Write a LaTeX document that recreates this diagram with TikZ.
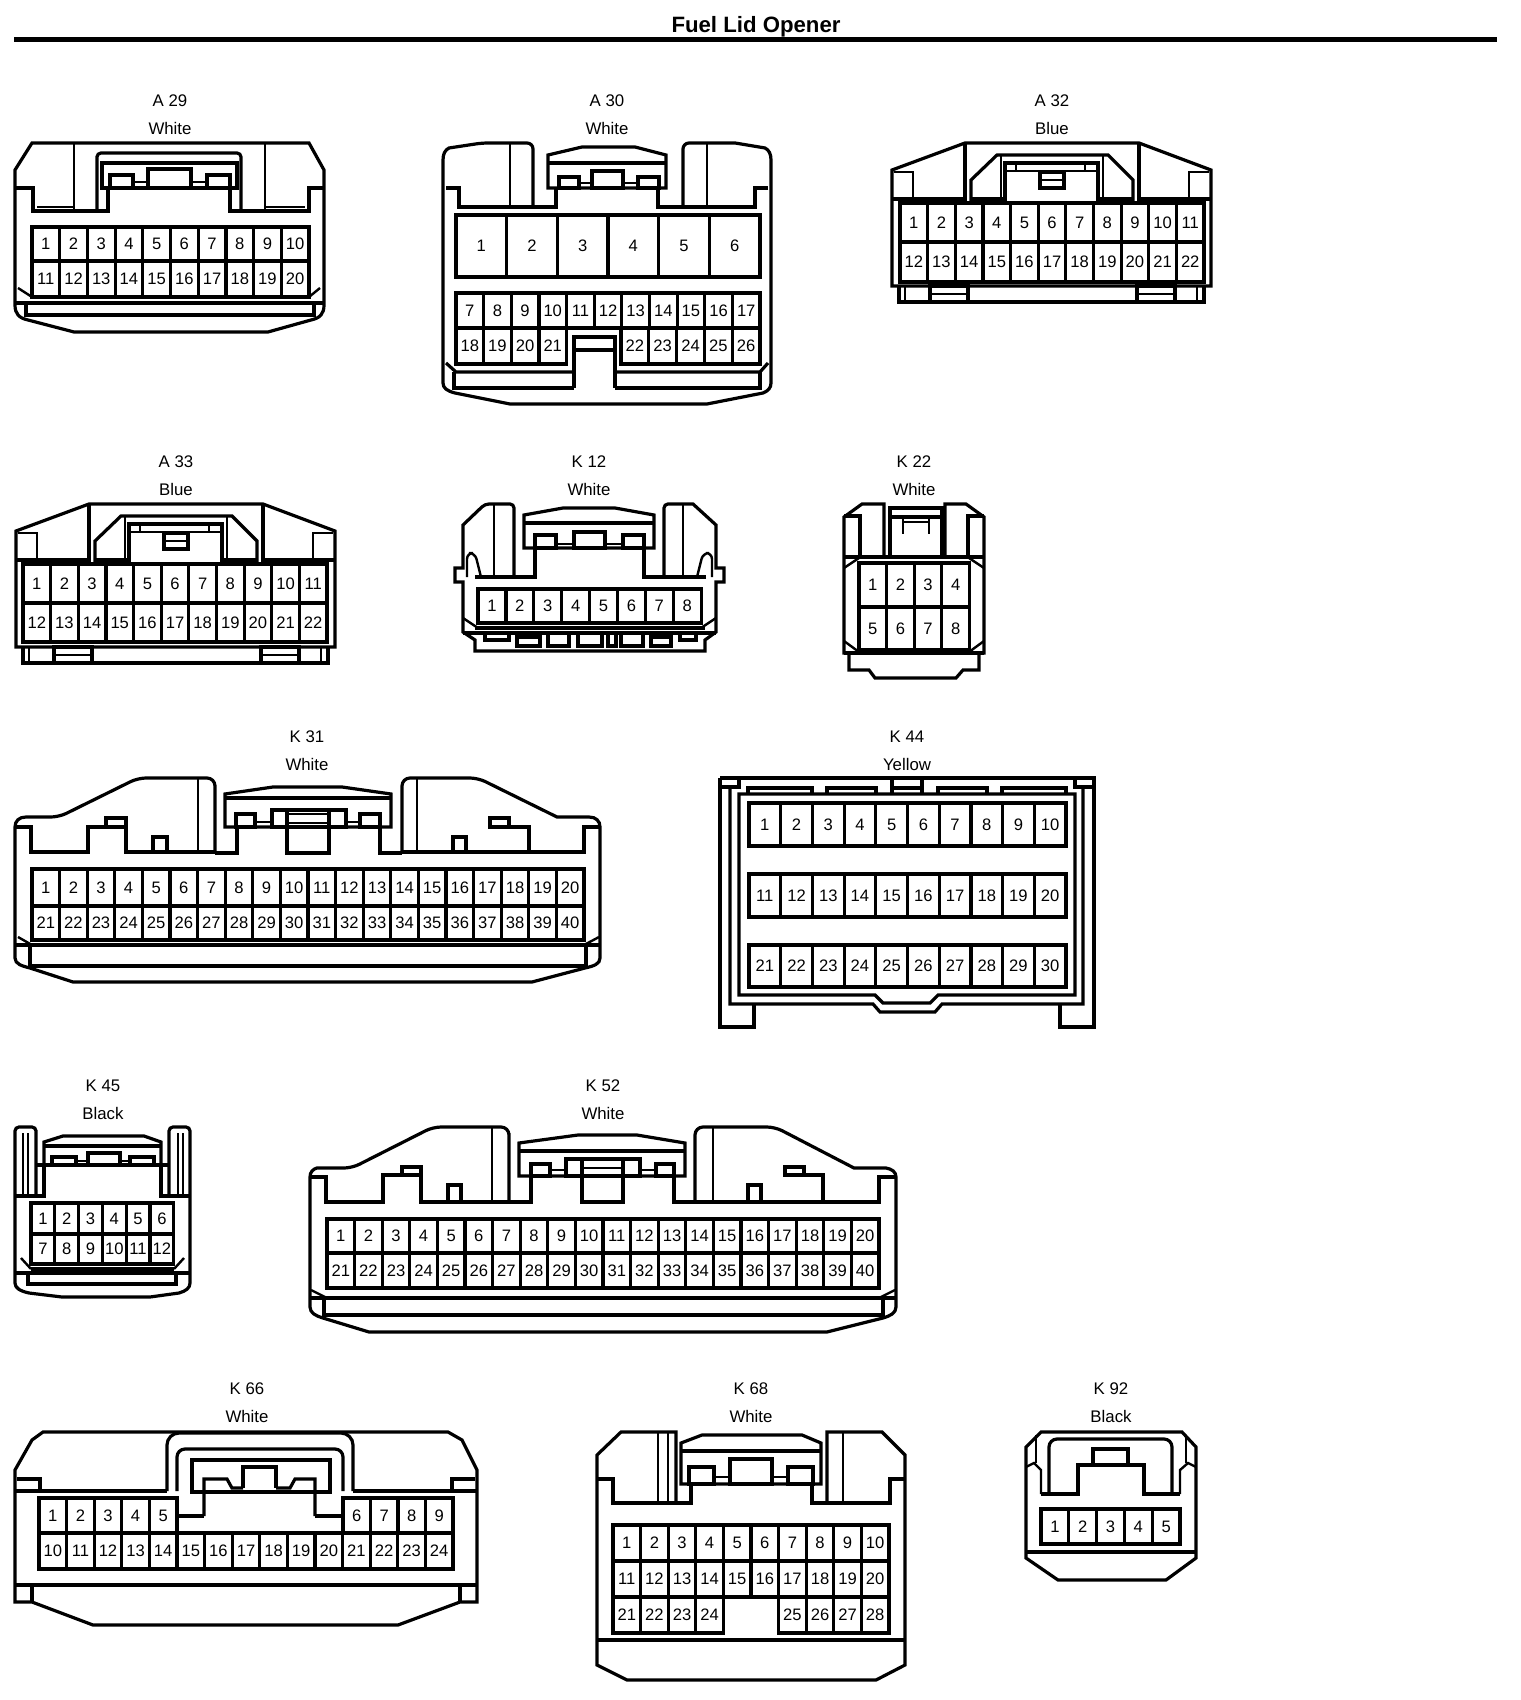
\documentclass[tikz,border=0pt]{standalone}
\usepackage{fontspec}
\setmainfont{Liberation Sans}
\tikzset{
  body/.style={draw=black,line width=1.6pt,line join=miter},
  thinline/.style={draw=black,line width=1.2pt},
  pinbox/.style={draw=black,line width=1.6pt,inner sep=0pt,font=\fontsize{8.3}{10}\selectfont},
  conlabel/.style={inner sep=0pt,font=\fontsize{8.4}{10}\selectfont},
  titletext/.style={inner sep=0pt,font=\fontsize{11.1}{13}\selectfont\bfseries}
}
\newcommand{\pinrow}[7]{%
  \foreach \n in {#6,...,#7} {
    \node[pinbox,minimum width=#4*.5pt,minimum height=#5*.5pt] (#1p\n) at ({#2+(\n-#6+.5)*#4},{#3+#5/2}) {\n};
  }
}
\newcommand{\conname}[5]{%
  \node[conlabel] (#1name) at (#2,#3) {#4};
  \node[conlabel] (#1col) at (#2,#3+27.5) {#5};
}
\newcommand{\bluebody}{%
  \draw[body] (965,143) -- (1139,143) -- (1211,170) -- (1211,286) -- (892,286) -- (892,170) -- cycle;
  \draw[body] (899,286) -- (899,302) -- (1204,302) -- (1204,286);
  \draw[body] (892,199) -- (965,199) -- (965,143);
  \draw[body] (1211,199) -- (1139,199) -- (1139,143);
  \draw[body] (971,203) -- (971,180) -- (997,155) -- (1108,155) -- (1133,180) -- (1133,203);
  \draw[body] (971,199) -- (1005,199);
  \draw[body] (1098,199) -- (1133,199);
  \draw[thinline] (1001,155) -- (1001,199);
  \draw[thinline] (1103,155) -- (1103,199);
  \draw[body] (1005,203) -- (1005,163) -- (1098,163) -- (1098,203);
  \draw[thinline] (1005,171) -- (1098,171);
  \draw[thinline] (1016,163) -- (1016,171);
  \draw[thinline] (1085,163) -- (1085,171);
  \draw[body] (1040,172) rectangle (1064,188);
  \draw[thinline] (1040,180) -- (1064,180);
  \draw[thinline] (894,172) -- (913,172) -- (913,199);
  \draw[thinline] (1209,172) -- (1189,172) -- (1189,199);
  \draw[thinline] (905,286) -- (905,302);
  \draw[thinline] (1197,286) -- (1197,302);
  \draw[body] (930,286) rectangle (968,302);
  \draw[thinline] (930,294) -- (968,294);
  \draw[body] (1137,286) rectangle (1175,302);
  \draw[thinline] (1137,294) -- (1175,294);
}
\begin{document}
\begin{tikzpicture}[x=.5pt,y=-.5pt]
\useasboundingbox (0,0) rectangle (1520,1700);
\node[titletext] (title) at (756,27) {Fuel Lid Opener};
\draw[line width=2.5pt] (14,40) -- (1497,40);

\conname{A29}{170}{101}{A 29}{White}
\draw[body] (32,143) -- (309,143) -- (324,170) -- (324,305) .. controls (324,314) and (320,318) .. (311,320) -- (268,332) -- (74,332) -- (28,320) .. controls (19,318) and (15,314) .. (15,305) -- (15,170) -- cycle;
\draw[body] (15,188) -- (33,188) -- (33,211) -- (108,211) -- (108,188);
\draw[body] (324,188) -- (309,188) -- (309,211) -- (230,211) -- (230,188);
\draw[body] (97,211) -- (97,156) [rounded corners=2pt] -- (97,153) -- (241,153) [sharp corners] -- (241,211);
\draw[body] (102,163) rectangle (237,188);
\draw[body] (110,175) rectangle (133,188);
\draw[body] (148,169) rectangle (191,188);
\draw[body] (207,175) rectangle (230,188);
\draw[thinline] (133,182) -- (148,182);
\draw[thinline] (191,182) -- (207,182);
\draw[thinline] (74,143) -- (74,211);
\draw[thinline] (265,143) -- (265,211);
\draw[thinline] (37,207) -- (74,207);
\draw[thinline] (265,207) -- (305,207);
\pinrow{A29}{32}{227}{27.7}{34}{1}{10}
\pinrow{A29}{32}{261}{27.7}{36}{11}{20}
\draw[body] (15,303) -- (324,303);
\draw[body] (26,303) -- (26,315) -- (314,315) -- (314,303);
\draw[thinline] (18,288) -- (32,297);
\draw[thinline] (320,288) -- (309,297);

\conname{A30}{607}{101}{A 30}{White}
\draw[body] (533,207) -- (533,150) [rounded corners=3pt] -- (533,143) -- (482,143) [sharp corners] -- (449,148) .. controls (445,150) and (443,154) .. (443,160) -- (443,383) .. controls (443,388) and (447,391) .. (455,393) -- (510,404) -- (707,404) -- (763,393) .. controls (768,391) and (771,388) .. (771,383) -- (771,160) .. controls (771,154) and (769,150) .. (765,148) -- (735,143) [rounded corners=3pt] -- (683,143) [sharp corners] -- (683,207);
\draw[body] (446,188) -- (459,188) -- (459,207) -- (556,207) -- (556,188);
\draw[body] (768,188) -- (755,188) -- (755,207) -- (658,207) -- (658,188);
\draw[thinline] (510,143) -- (510,207);
\draw[thinline] (707,143) -- (707,207);
\draw[body] (548,188) -- (548,155) -- (582,147) -- (635,147) -- (666,155) -- (666,188) -- cycle;
\draw[body] (548,163) -- (666,163);
\draw[body] (559,177) rectangle (579,188);
\draw[body] (592,171) rectangle (623,188);
\draw[body] (638,177) rectangle (659,188);
\draw[thinline] (579,183) -- (592,183);
\draw[thinline] (623,183) -- (638,183);
\pinrow{A30}{456}{215}{50.67}{62}{1}{6}
\pinrow{A30}{456}{293}{27.64}{35}{7}{17}
\pinrow{A30}{456}{328}{27.64}{36}{18}{21}
\pinrow{A30}{621}{328}{27.8}{36}{22}{26}
\draw[body] (574,388) -- (574,337) -- (615,337) -- (615,388);
\draw[body] (574,350) -- (615,350);
\draw[body] (446,363) -- (456,372) -- (574,372);
\draw[body] (768,363) -- (760,372) -- (615,372);
\draw[body] (454,372) -- (454,388) -- (574,388);
\draw[body] (760,372) -- (760,388) -- (615,388);

\conname{A32}{1052}{101}{A 32}{Blue}
\bluebody
\pinrow{A32}{900}{203}{27.64}{39}{1}{11}
\pinrow{A32}{900}{242}{27.64}{40}{12}{22}

\conname{A33}{176}{462}{A 33}{Blue}
\begin{scope}[shift={(-876,361)}]
\bluebody
\end{scope}
\pinrow{A33}{23}{564}{27.64}{39}{1}{11}
\pinrow{A33}{23}{603}{27.64}{39}{12}{22}

\conname{K12}{589}{462}{K 12}{White}
\draw[body] (514,577) -- (514,510) [rounded corners=2pt] -- (514,504) -- (485,504) [sharp corners] -- (463,525) -- (463,568) -- (455,568) -- (455,582) -- (463,582) -- (463,632) -- (475,640) -- (475,651) -- (705,651) -- (705,640) -- (716,632) -- (716,582) -- (724,582) -- (724,568) -- (716,568) -- (716,525) -- (693,504) [rounded corners=2pt] -- (664,504) [sharp corners] -- (664,577);
\draw[body] (475,577) -- (535,577) -- (535,548);
\draw[body] (706,577) -- (644,577) -- (644,548);
\draw[thinline] (494,504) -- (494,577);
\draw[thinline] (683,504) -- (683,577);
\draw[thinline,rounded corners=3pt] (467,577) -- (467,553) -- (475,553) -- (481,577);
\draw[thinline,rounded corners=3pt] (712,577) -- (712,553) -- (703,553) -- (697,577);
\draw[body] (524,548) -- (524,515) -- (563,508) -- (615,508) -- (654,515) -- (654,548) -- cycle;
\draw[body] (524,523) -- (654,523);
\draw[body] (535,535) rectangle (556,548);
\draw[body] (574,532) rectangle (605,548);
\draw[body] (623,535) rectangle (644,548);
\draw[thinline] (556,544) -- (574,544);
\draw[thinline] (605,544) -- (623,544);
\pinrow{K12}{478}{589}{27.9}{34}{1}{8}
\draw[body] (475,628) -- (705,628);
\draw[body] (463,633) -- (716,633);
\draw[thinline] (463,618) -- (478,628);
\draw[thinline] (716,618) -- (701,628);
\draw[body] (485,633) -- (485,640) -- (509,640) -- (509,633);
\draw[body] (517,637) rectangle (540,646);
\draw[body] (548,633) -- (548,646) -- (569,646) -- (569,633);
\draw[body] (578,633) -- (578,646) -- (602,646) -- (602,633);
\draw[body] (608,633) -- (608,646) -- (616,646) -- (616,633);
\draw[body] (621,633) -- (621,646) -- (643,646) -- (643,633);
\draw[body] (651,637) rectangle (671,646);
\draw[body] (680,633) -- (680,640) -- (696,640) -- (696,633);

\conname{K22}{914}{462}{K 22}{White}
\draw[body] (884,555) -- (884,504) -- (862,504) -- (844,517) -- (844,653) -- (849,653) -- (849,670) -- (869,670) -- (875,678) -- (956,678) -- (963,670) -- (979,670) -- (979,653) -- (984,653) -- (984,517) -- (966,504) -- (945,504) -- (945,555);
\draw[body] (844,653) -- (984,653);
\draw[body] (844,557) -- (984,557);
\draw[body] (844,516) -- (860,516) -- (860,557);
\draw[body] (984,516) -- (968,516) -- (968,557);
\draw[body] (890,557) -- (890,508) -- (942,508) -- (942,557);
\draw[body] (890,517) -- (942,517);
\draw[thinline] (903,517) -- (903,534);
\draw[thinline] (929,517) -- (929,534);
\draw[thinline] (903,522) -- (929,522);
\draw[thinline] (844,568) -- (859,558);
\draw[thinline] (984,568) -- (969,558);
\draw[thinline] (844,641) -- (859,652);
\draw[thinline] (984,641) -- (969,652);
\pinrow{K22}{859}{563}{27.6}{44}{1}{4}
\pinrow{K22}{859}{607}{27.6}{43}{5}{8}

\conname{K31}{307}{737}{K 31}{White}
\draw[body] (215,853) -- (215,785) [rounded corners=4pt] -- (215,778) -- (138,778) -- (59,817) [sharp corners] -- (26,817) .. controls (19,817) and (15,821) .. (15,827) -- (15,958) .. controls (15,964) and (22,966) .. (30,968) -- (73,982) -- (532,982) -- (585,968) .. controls (594,966) and (600,964) .. (600,958) -- (600,827) .. controls (600,821) and (596,817) .. (589,817) -- (557,817) [rounded corners=4pt] -- (478,778) -- (402,778) [sharp corners] -- (402,853);
\draw[body] (15,827) -- (31,827) -- (31,852) -- (88,852) -- (88,827) -- (126,827);
\draw[body] (106,827) -- (106,818) -- (126,818) -- (126,852) -- (215,852);
\draw[body] (153,852) -- (153,837) -- (167,837) -- (167,852);
\draw[body] (215,853) -- (237,853) -- (237,827);
\draw[body] (402,853) -- (380,853) -- (380,827);
\draw[thinline] (198,778) -- (198,852);
\draw[thinline] (417,778) -- (417,852);
\draw[body] (225,827) -- (225,794) -- (273,787) -- (342,787) -- (391,794) -- (391,827) -- cycle;
\draw[body] (225,798) -- (391,798);
\draw[body] (236,814) rectangle (255,827);
\draw[body] (272,810) rectangle (346,827);
\draw[body] (360,814) rectangle (380,827);
\draw[thinline] (255,822) -- (272,822);
\draw[thinline] (346,822) -- (360,822);
\draw[body] (287,810) -- (287,853) -- (329,853) -- (329,810);
\draw[thinline] (287,814) -- (329,814);
\draw[thinline] (287,823) -- (329,823);
\draw[body] (402,852) -- (529,852) -- (529,827) -- (490,827) -- (490,818) -- (509,818) -- (509,827);
\draw[body] (453,852) -- (453,837) -- (466,837) -- (466,852);
\draw[body] (529,852) -- (584,852) -- (584,827) -- (600,827);
\pinrow{K31}{32}{869}{27.6}{37}{1}{20}
\pinrow{K31}{32}{906}{27.6}{34}{21}{40}
\draw[body] (15,945) -- (600,945);
\draw[body] (30,946) -- (30,966) -- (586,966) -- (586,946);
\draw[thinline] (18,937) -- (32,945);
\draw[thinline] (599,937) -- (584,945);

\conname{K44}{907}{737}{K 44}{Yellow}
\draw[body] (720,778) -- (1094,778) -- (1094,1027) -- (1060,1027) -- (1060,1005);
\draw[body] (720,778) -- (720,1027) -- (754,1027) -- (754,1005);
\draw[body] (730,787) -- (730,1004) -- (873,1004) -- (880,1012) -- (935,1012) -- (942,1004) -- (1083,1004) -- (1083,787);
\draw[body] (720,787) -- (739,787) -- (739,778);
\draw[body] (1094,787) -- (1075,787) -- (1075,778);
\draw[body] (739,794) -- (1075,794) -- (1075,995) -- (938,995) -- (930,1003) -- (883,1003) -- (875,995) -- (739,995) -- cycle;
\draw[body] (748,794) -- (748,788) -- (812,788) -- (812,794);
\draw[body] (827,794) -- (827,788) -- (876,788) -- (876,794);
\draw[body] (892,778) -- (892,794);
\draw[body] (922,778) -- (922,794);
\draw[body] (892,788) -- (922,788);
\draw[body] (938,794) -- (938,788) -- (987,788) -- (987,794);
\draw[body] (1002,794) -- (1002,788) -- (1066,788) -- (1066,794);
\pinrow{K44}{749}{803}{31.7}{43}{1}{10}
\pinrow{K44}{749}{874}{31.7}{43}{11}{20}
\pinrow{K44}{749}{945}{31.7}{42}{21}{30}

\conname{K45}{103}{1086}{K 45}{Black}
\draw[body] (36,1196) -- (36,1130) [rounded corners=2pt] -- (36,1127) -- (15,1127) -- (15,1135) [sharp corners] -- (15,1283) .. controls (15,1288) and (20,1291) .. (29,1293) -- (62,1297) -- (150,1297) -- (179,1293) .. controls (186,1291) and (190,1288) .. (190,1283) -- (190,1135) [rounded corners=2pt] -- (190,1127) -- (169,1127) [sharp corners] -- (169,1196);
\draw[thinline] (23,1133) -- (23,1196);
\draw[thinline] (28,1133) -- (28,1196);
\draw[thinline] (178,1133) -- (178,1196);
\draw[thinline] (183,1133) -- (183,1196);
\draw[body] (36,1165) -- (169,1165);
\draw[body] (44,1165) -- (44,1142) -- (63,1136) -- (144,1136) -- (161,1142) -- (161,1165);
\draw[body] (44,1146) -- (161,1146);
\draw[body] (52,1157) rectangle (76,1165);
\draw[body] (88,1153) rectangle (120,1165);
\draw[body] (130,1157) rectangle (154,1165);
\draw[thinline] (76,1161) -- (88,1161);
\draw[thinline] (120,1161) -- (130,1161);
\draw[body] (44,1165) -- (44,1196) -- (15,1196);
\draw[body] (161,1165) -- (161,1196) -- (190,1196);
\pinrow{K45}{31}{1203}{23.8}{31}{1}{6}
\pinrow{K45}{31}{1234}{23.8}{30}{7}{12}
\draw[body] (31,1269) -- (174,1269);
\draw[body] (15,1273) -- (190,1273);
\draw[body] (28,1273) -- (28,1284) -- (176,1284) -- (176,1273);
\draw[thinline] (21,1258) -- (31,1269);
\draw[thinline] (184,1258) -- (174,1269);

\conname{K52}{603}{1086}{K 52}{White}
\draw[body] (509,1202) -- (509,1133) [rounded corners=4pt] -- (509,1127) -- (433,1127) -- (352,1168) [sharp corners] -- (317,1168) .. controls (313,1169) and (310,1172) .. (310,1177) -- (310,1307) .. controls (310,1313) and (316,1316) .. (323,1318) -- (369,1332) -- (827,1332) -- (883,1318) .. controls (890,1316) and (896,1313) .. (896,1307) -- (896,1177) .. controls (896,1172) and (892,1169) .. (886,1168) -- (854,1168) [rounded corners=4pt] -- (775,1127) -- (695,1127) [sharp corners] -- (695,1202);
\draw[body] (310,1177) -- (326,1177) -- (326,1202) -- (383,1202) -- (383,1175) -- (421,1175);
\draw[body] (402,1175) -- (402,1167) -- (421,1167) -- (421,1202) -- (531,1202) -- (531,1176);
\draw[body] (448,1202) -- (448,1185) -- (461,1185) -- (461,1202);
\draw[thinline] (492,1127) -- (492,1202);
\draw[thinline] (713,1127) -- (713,1202);
\draw[body] (519,1176) -- (519,1143) -- (578,1135) -- (637,1135) -- (685,1143) -- (685,1176) -- cycle;
\draw[body] (519,1151) -- (685,1151);
\draw[body] (531,1164) rectangle (550,1176);
\draw[body] (566,1159) rectangle (640,1176);
\draw[body] (656,1164) rectangle (674,1176);
\draw[thinline] (550,1170) -- (566,1170);
\draw[thinline] (640,1170) -- (656,1170);
\draw[body] (582,1159) -- (582,1202) -- (623,1202) -- (623,1159);
\draw[thinline] (582,1168) -- (623,1168);
\draw[body] (674,1176) -- (674,1202) -- (823,1202) -- (823,1175) -- (785,1175) -- (785,1167) -- (804,1167) -- (804,1175);
\draw[body] (748,1202) -- (748,1185) -- (761,1185) -- (761,1202);
\draw[body] (823,1202) -- (879,1202) -- (879,1177) -- (896,1177);
\pinrow{K52}{327}{1219}{27.6}{34}{1}{20}
\pinrow{K52}{327}{1253}{27.6}{35}{21}{40}
\draw[body] (310,1298) -- (896,1298);
\draw[body] (324,1299) -- (324,1315) -- (883,1315) -- (883,1299);
\draw[thinline] (311,1290) -- (327,1298);
\draw[thinline] (895,1290) -- (879,1298);

\conname{K66}{247}{1389}{K 66}{White}
\draw[body] (43,1432) -- (448,1432) -- (462,1440) -- (477,1470) -- (477,1602) -- (460,1602) -- (398,1625) -- (93,1625) -- (32,1602) -- (15,1602) -- (15,1470) -- (32,1440) -- cycle;
\draw[body] (15,1585) -- (477,1585);
\draw[body] (32,1585) -- (32,1602);
\draw[body] (460,1585) -- (460,1602);
\draw[body] (15,1491) -- (167,1491);
\draw[body] (353,1491) -- (477,1491);
\draw[body] (17,1479) -- (40,1479) -- (40,1491);
\draw[body] (475,1479) -- (452,1479) -- (452,1491);
\draw[body,rounded corners=6pt] (167,1491) -- (167,1433) -- (353,1433) -- (353,1491);
\draw[body,rounded corners=4pt] (177,1491) -- (177,1449) -- (343,1449) -- (343,1491);
\draw[body] (192,1460) rectangle (330,1492);
\draw[body] (204,1516) -- (204,1479) -- (227,1479) -- (232,1488) -- (243,1488);
\draw[body] (276,1488) -- (290,1488) -- (295,1479) -- (315,1479) -- (315,1516);
\draw[body] (243,1488) -- (243,1467) -- (276,1467) -- (276,1488);
\draw[body] (178,1516) -- (204,1516);
\draw[body] (315,1516) -- (343,1516);
\pinrow{K66}{39}{1498}{27.6}{35}{1}{5}
\pinrow{K66}{343}{1498}{27.5}{35}{6}{9}
\pinrow{K66}{39}{1533}{27.6}{36}{10}{24}

\conname{K68}{751}{1389}{K 68}{White}
\draw[body] (676,1503) -- (676,1432) -- (621,1432) -- (597,1455) -- (597,1665) -- (627,1680) -- (876,1680) -- (905,1665) -- (905,1455) -- (882,1432) -- (827,1432) -- (827,1503);
\draw[body] (597,1479) -- (613,1479) -- (613,1503) -- (691,1503) -- (691,1484);
\draw[body] (905,1479) -- (890,1479) -- (890,1503) -- (812,1503) -- (812,1484);
\draw[thinline] (658,1432) -- (658,1503);
\draw[thinline] (668,1432) -- (668,1503);
\draw[thinline] (843,1432) -- (843,1503);
\draw[body] (681,1484) -- (681,1443) -- (702,1435) -- (802,1435) -- (821,1443) -- (821,1484) -- cycle;
\draw[body] (681,1451) -- (821,1451);
\draw[body] (689,1467) rectangle (714,1484);
\draw[body] (730,1459) rectangle (772,1484);
\draw[body] (788,1467) rectangle (813,1484);
\draw[thinline] (714,1477) -- (730,1477);
\draw[thinline] (772,1477) -- (788,1477);
\pinrow{K68}{613}{1525}{27.6}{36}{1}{10}
\pinrow{K68}{613}{1561}{27.6}{36}{11}{20}
\pinrow{K68}{613}{1597}{27.6}{36}{21}{24}
\pinrow{K68}{778.6}{1597}{27.6}{36}{25}{28}
\draw[body] (597,1640) -- (905,1640);

\conname{K92}{1111}{1389}{K 92}{Black}
\draw[body] (1041,1432) -- (1182,1432) -- (1196,1447) -- (1196,1558) -- (1166,1580) -- (1058,1580) -- (1026,1558) -- (1026,1447) -- cycle;
\draw[body] (1026,1552) -- (1196,1552);
\draw[body] (1041,1494) -- (1078,1494) -- (1078,1465) -- (1144,1465) -- (1144,1494) -- (1180,1494);
\draw[body] (1093,1465) -- (1093,1449) -- (1128,1449) -- (1128,1465);
\draw[body,rounded corners=4pt] (1049,1494) -- (1049,1439) -- (1172,1439) -- (1172,1494);
\draw[thinline] (1036,1435) -- (1036,1463);
\draw[thinline] (1186,1435) -- (1186,1463);
\draw[thinline] (1026,1467) -- (1034,1463) -- (1041,1470) -- (1041,1494);
\draw[thinline] (1196,1467) -- (1188,1463) -- (1180,1470) -- (1180,1494);
\pinrow{K92}{1041}{1509}{27.8}{35}{1}{5}
\end{tikzpicture}
\end{document}
